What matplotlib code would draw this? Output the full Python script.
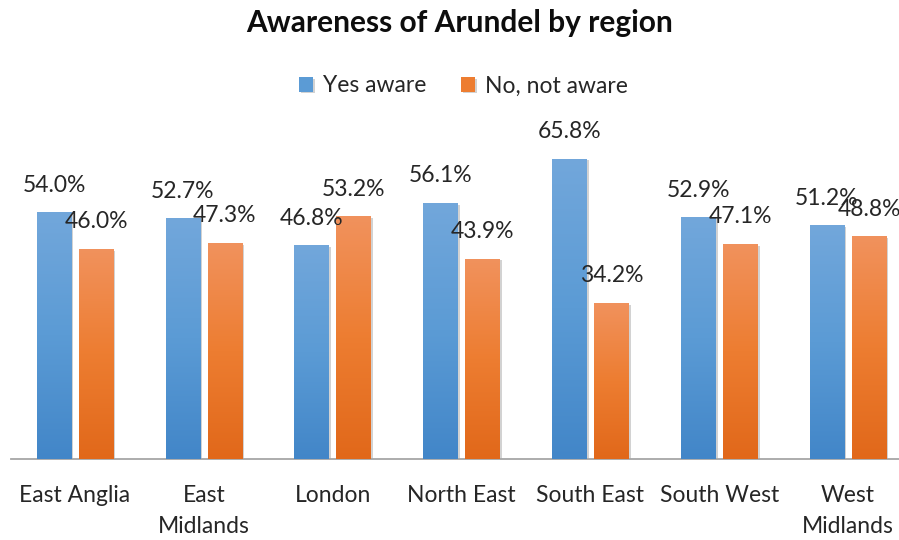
import numpy as np
import matplotlib
matplotlib.use("Agg")
import matplotlib.pyplot as plt
from matplotlib import patheffects as pe
from matplotlib.colors import LinearSegmentedColormap

plt.rcParams['font.family'] = ['Lato', 'DejaVu Sans']

categories = ["East Anglia", "East\nMidlands", "London", "North East",
              "South East", "South West", "West\nMidlands"]
yes_aware = [54.0, 52.7, 46.8, 56.1, 65.8, 52.9, 51.2]
not_aware = [46.0, 47.3, 53.2, 43.9, 34.2, 47.1, 48.8]
series_names = ["Yes aware", "No, not aware"]
title = "Awareness of Arundel by region"

blue_top, blue_mid, blue_bot = "#72a7db", "#5b9bd5", "#4286c8"
orange_top, orange_mid, orange_bot = "#f1925d", "#ed7d31", "#e1681a"

W, H = 899, 540
fig = plt.figure(figsize=(W / 100, H / 100), dpi=100)
ax = fig.add_axes([10.6 / W, 81 / H, 901.8 / W, 319.6 / H])

x = np.arange(len(categories))
bw = 0.268
off = 0.163

shadow = [pe.SimplePatchShadow(offset=(1.5, -1.2), shadow_rgbFace="#7f7f7f", alpha=0.35), pe.Normal()]
b1 = ax.bar(x - off, yes_aware, bw, color=blue_mid, label=series_names[0], zorder=2)
b2 = ax.bar(x + off, not_aware, bw, color=orange_mid, label=series_names[1], zorder=2)

grad = np.linspace(0, 1, 256).reshape(-1, 1)
cm_b = LinearSegmentedColormap.from_list("b", [blue_bot, blue_mid, blue_top])
cm_o = LinearSegmentedColormap.from_list("o", [orange_bot, orange_mid, orange_top])
for bars, cm in ((b1, cm_b), (b2, cm_o)):
    for r in bars:
        r.set_path_effects(shadow)
        x0, w, h = r.get_x(), r.get_width(), r.get_height()
        im = ax.imshow(grad, extent=[x0, x0 + w, 0, h], origin="lower", aspect="auto",
                       cmap=cm, zorder=3, interpolation="bilinear")
        im.set_clip_path(r)

for bars, vals in ((b1, yes_aware), (b2, not_aware)):
    for r, v in zip(bars, vals):
        ax.annotate(f"{v:.1f}%", xy=(r.get_x() + r.get_width() / 2, v),
                    xytext=(0, 19.5), textcoords="offset points",
                    ha="center", va="center", fontsize=16.5, color="#262626", zorder=5)

ax.set_xlim(-0.5, len(categories) - 0.5)
ax.set_ylim(0, 70)
ax.set_xticks(x)
ax.set_xticklabels(categories, fontsize=16.5, color="#262626", linespacing=1.55)
ax.tick_params(axis="x", length=0, pad=19)
ax.set_yticks([])
for s in ("top", "right", "left"):
    ax.spines[s].set_visible(False)
ax.spines["bottom"].set_color("#a6a6a6")
ax.spines["bottom"].set_linewidth(1.3)

fig.text(460 / W, 1 - 23 / H, title, ha="center", va="center",
         fontsize=21.5, fontweight="bold", color="#0d0d0d")

leg = fig.legend(handles=[b1, b2], labels=series_names, loc="center",
                 bbox_to_anchor=(463.5 / W, 1 - 86 / H), ncol=2, frameon=False,
                 fontsize=16.5, handlelength=0.6, handleheight=0.6, handletextpad=0.45,
                 columnspacing=1.5, labelcolor="#262626")

fig.savefig("out.png", dpi=100)
